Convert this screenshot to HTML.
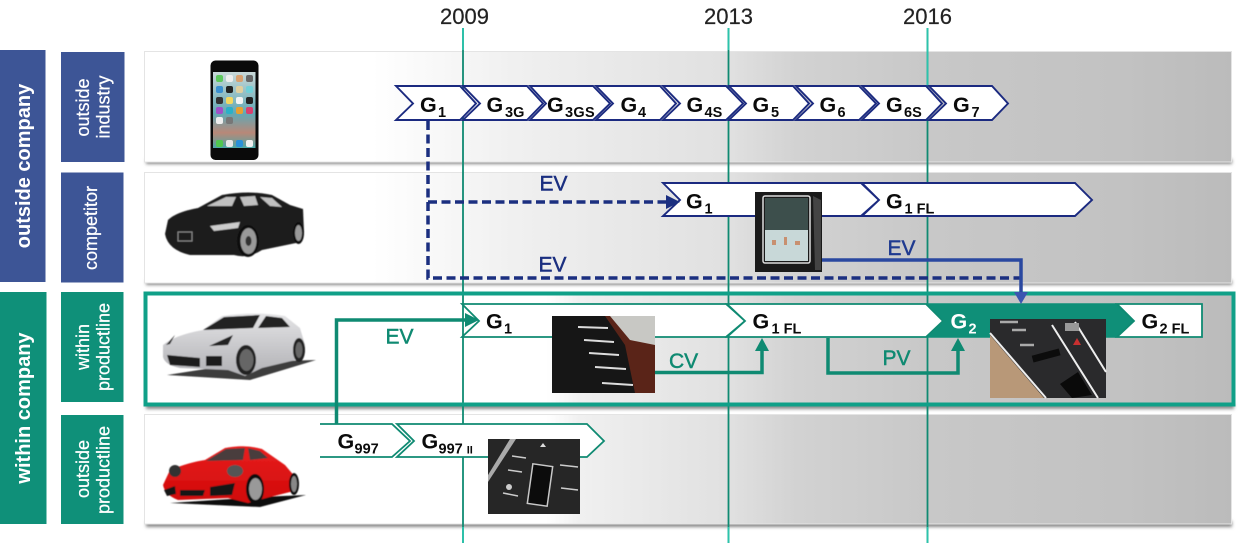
<!DOCTYPE html>
<html><head><meta charset="utf-8"><title>Diagram</title>
<style>
html,body{margin:0;padding:0;background:#fff;width:1240px;height:543px;overflow:hidden}
svg{display:block}
text{font-family:"Liberation Sans",sans-serif}
.g{font-weight:bold;font-size:21.5px;fill:#0b0b0b}
.s{font-weight:bold;font-size:14.5px;fill:#0b0b0b}
.y{font-size:22px;fill:#222;stroke:#222;stroke-width:.2}
.side{fill:#fff;font-size:18px;text-anchor:middle;stroke:#fff;stroke-width:.25}
.big{fill:#fff;font-size:20px;font-weight:bold;text-anchor:middle}
.ev{font-size:21px;stroke-width:.45}
.n{fill:#fff;stroke:#1b2a80;stroke-width:1.900}
.t{fill:#fff;stroke:#0f8a72;stroke-width:1.800}
</style></head><body>
<svg width="1240" height="543" viewBox="0 0 1240 543" xmlns="http://www.w3.org/2000/svg">
<defs>
<linearGradient id="r" gradientUnits="userSpaceOnUse" x1="144" y1="0" x2="1232" y2="0">
<stop offset="0" stop-color="#fff"/><stop offset=".21" stop-color="#fff"/><stop offset=".34" stop-color="#f0f0f0"/><stop offset=".54" stop-color="#e0e0e0"/><stop offset=".6" stop-color="#d2d2d2"/><stop offset=".72" stop-color="#c8c8c8"/><stop offset=".9" stop-color="#c2c2c2"/><stop offset="1" stop-color="#bbb"/>
</linearGradient>
<linearGradient id="r2" gradientUnits="userSpaceOnUse" x1="144" y1="0" x2="1232" y2="0">
<stop offset="0" stop-color="#fff"/><stop offset=".37" stop-color="#fff"/><stop offset=".4" stop-color="#f0f0f0"/><stop offset=".54" stop-color="#e0e0e0"/><stop offset=".6" stop-color="#d2d2d2"/><stop offset=".72" stop-color="#c8c8c8"/><stop offset=".9" stop-color="#c2c2c2"/><stop offset="1" stop-color="#bbb"/>
</linearGradient>
<linearGradient id="scr" x1="0" y1="0" x2="0" y2="1"><stop offset="0" stop-color="#c8d8d8"/><stop offset=".55" stop-color="#62a8b4"/><stop offset=".8" stop-color="#b88878"/><stop offset="1" stop-color="#4aa8a8"/></linearGradient>
<linearGradient id="silver" x1="0" y1="0" x2="0" y2="1"><stop offset="0" stop-color="#e4e4e6"/><stop offset="1" stop-color="#b0b0b4"/></linearGradient>
<linearGradient id="red" x1="0" y1="0" x2="0" y2="1"><stop offset="0" stop-color="#e82020"/><stop offset="1" stop-color="#d00808"/></linearGradient>
<filter id="bl"><feGaussianBlur stdDeviation="1.5"/></filter>
<filter id="soft"><feGaussianBlur stdDeviation=".5"/></filter>
</defs>

<!-- left headers -->
<rect x="0" y="50" width="45.500" height="232" fill="#3d5596"/>
<rect x="61" y="52" width="63.500" height="110" fill="#3d5596"/>
<rect x="61" y="172.500" width="62.500" height="110" fill="#3d5596"/>
<rect x="0" y="292" width="46.500" height="232" fill="#0f9079"/>
<rect x="61" y="292" width="62.500" height="110" fill="#0f9079"/>
<rect x="61" y="415" width="62.500" height="109" fill="#0f9079"/>
<text class="big" transform="translate(30,166) rotate(-90)">outside company</text>
<text class="big" transform="translate(30,408) rotate(-90)">within company</text>
<text class="side" transform="translate(89,107.500) rotate(-90)">outside</text>
<text class="side" transform="translate(109.500,107) rotate(-90)">industry</text>
<text class="side" transform="translate(97,228) rotate(-90)">competitor</text>
<text class="side" transform="translate(89,347) rotate(-90)">within</text>
<text class="side" transform="translate(109.500,347) rotate(-90)">productline</text>
<text class="side" transform="translate(89,469) rotate(-90)">outside</text>
<text class="side" transform="translate(109.500,470) rotate(-90)">productline</text>

<!-- rows -->
<g fill="#888" filter="url(#bl)">
<rect x="146" y="159" width="1086" height="5"/>
<rect x="146" y="280" width="1086" height="5"/>
<rect x="146" y="404" width="1088" height="5"/>
<rect x="146" y="521" width="1086" height="6"/>
</g>
<rect x="144.500" y="51.500" width="1087" height="110.500" fill="url(#r)" stroke="#e4e4e4"/>
<rect x="144.500" y="172.500" width="1087" height="110.500" fill="url(#r)" stroke="#e4e4e4"/>
<rect x="144.500" y="414.500" width="1087" height="109.500" fill="url(#r2)" stroke="#e4e4e4"/>
<rect x="145.500" y="293.500" width="1088" height="111" fill="url(#r2)"/>

<!-- timeline -->
<g stroke="#0f8a72" stroke-width="1.800">
<line x1="463" y1="28" x2="463" y2="543"/><line x1="728.500" y1="28" x2="728.500" y2="543"/><line x1="927.500" y1="28" x2="927.500" y2="543"/>
</g>
<g stroke="#2cc4ac" stroke-width="1.800">
<line x1="463" y1="28" x2="463" y2="50"/><line x1="728.500" y1="28" x2="728.500" y2="50"/><line x1="927.500" y1="28" x2="927.500" y2="86"/>
<line x1="463" y1="527" x2="463" y2="543"/><line x1="728.500" y1="527" x2="728.500" y2="543"/><line x1="927.500" y1="527" x2="927.500" y2="543"/>
</g>
<rect x="145.500" y="293.500" width="1088" height="111" fill="none" stroke="#10a088" stroke-width="4"/>
<text class="y" x="440" y="24">2009</text><text class="y" x="704" y="24">2013</text><text class="y" x="903" y="24">2016</text>

<!-- chevrons row 1 -->
<polygon class="n" points="396,86 460,86 476,103.500 460,120 396,120 413,103.500"/>
<polygon class="n" points="463,86 527,86 543,103.500 527,120 463,120 480,103.500"/>
<polygon class="n" points="530,86 593,86 610,103.500 593,120 530,120 546,103.500"/>
<polygon class="n" points="596,86 660,86 676,103.500 660,120 596,120 613,103.500"/>
<polygon class="n" points="663,86 726,86 743,103.500 726,120 663,120 680,103.500"/>
<polygon class="n" points="729,86 793,86 809,103.500 793,120 729,120 746,103.500"/>
<polygon class="n" points="796,86 859,86 876,103.500 859,120 796,120 813,103.500"/>
<polygon class="n" points="862,86 926,86 942,103.500 926,120 862,120 879,103.500"/>
<polygon class="n" points="929,86 992,86 1008,103.500 992,120 929,120 946,103.500"/>
<text class="g" x="420" y="112">G</text><text class="s" x="438" y="117">1</text>
<text class="g" x="486.500" y="112">G</text><text class="s" x="505" y="117">3G</text>
<text class="g" x="547" y="112">G</text><text class="s" x="565" y="117" letter-spacing=".3">3GS</text>
<text class="g" x="620.500" y="112">G</text><text class="s" x="638" y="117">4</text>
<text class="g" x="686.500" y="112">G</text><text class="s" x="704.500" y="117">4S</text>
<text class="g" x="752.500" y="112">G</text><text class="s" x="771" y="117">5</text>
<text class="g" x="819.500" y="112">G</text><text class="s" x="837.500" y="117">6</text>
<text class="g" x="886" y="112">G</text><text class="s" x="904" y="117">6S</text>
<text class="g" x="953" y="112">G</text><text class="s" x="971.500" y="117">7</text>

<!-- row 2 chevrons -->
<polygon class="n" points="663,183 861,183 879,200 861,216 663,216 680,200"/>
<polygon class="n" points="862,183 1075,183 1092,200 1075,216 862,216 879,200"/>
<text class="g" x="686" y="208.500">G</text><text class="s" x="704.500" y="213.500">1</text>
<text class="g" x="886" y="208.500">G</text><text class="s" x="904.500" y="213.500">1 FL</text>

<!-- row 3 chevrons -->
<polygon class="t" points="462,304 726,304 745,321 726,337 462,337 479,321"/>
<polygon class="t" points="727,304 926,304 943,321 926,337 727,337 745,321"/>
<polygon points="928,304 1115,304 1134,321 1115,337 928,337 945,321" fill="#0f8f78" stroke="#0f8f78" stroke-width="1.600"/>
<polygon class="t" points="1117,304 1202,304 1202,337 1117,337 1134,321"/>
<text class="g" x="486" y="328.500">G</text><text class="s" x="504" y="333.500">1</text>
<text class="g" x="752.500" y="328.500">G</text><text class="s" x="771.500" y="333.500">1 FL</text>
<text class="g" x="950.500" y="328.500" style="fill:#fff">G</text><text class="s" x="968.500" y="333.500" style="fill:#fff">2</text>
<text class="g" x="1141.500" y="328.500">G</text><text class="s" x="1159.500" y="333.500">2 FL</text>

<!-- row 4 chevrons -->
<polygon points="320,424 392,424 410,441 392,457 320,457" fill="#fff"/>
<path d="M320,424 H392 L410,441 L392,457 H320" fill="none" stroke="#0f8a72" stroke-width="1.800"/>
<polygon class="t" points="397,424 587,424 604,441 587,457 397,457 414,441"/>
<text class="g" x="337.500" y="448.500">G</text><text class="s" x="354.500" y="453.500">997</text>
<text class="g" x="421.500" y="448.500">G</text><text class="s" x="438.500" y="453.500">997 <tspan font-size="11">II</tspan></text>

<!-- connectors -->
<g fill="none" stroke="#1b2f80" stroke-width="3.500">
<path d="M428,121 V278 H1020" stroke-dasharray="9 4.500"/>
<path d="M428,202 H666" stroke-dasharray="9 4.500"/>
</g>
<polygon points="666,195 680,202 666,209" fill="#1b2f80"/>
<path d="M820,260 H1021 V293" fill="none" stroke="#2a48a0" stroke-width="3.500"/>
<polygon points="1014,292 1028,292 1021,304" fill="#3b55b0"/>
<g fill="none" stroke="#0f8a72" stroke-width="3.500">
<path d="M336.500,424 V320 H466"/>
<path d="M655,372.500 H762 V350"/>
<path d="M828,338 V373 H958 V350"/>
</g>
<polygon points="465,313 479,320 465,327" fill="#0f8a72"/>
<polygon points="755,351 769,351 762,338" fill="#0f8a72"/>
<polygon points="951,351 965,351 958,338" fill="#0f8a72"/>

<text class="ev" x="539.500" y="190.500" fill="#1b2f80" stroke="#1b2f80">EV</text>
<text class="ev" x="538.500" y="271.500" fill="#1b2f80" stroke="#1b2f80">EV</text>
<text class="ev" x="887.500" y="255" fill="#1f3a90" stroke="#1f3a90">EV</text>
<text class="ev" x="385.500" y="343.500" fill="#0f8a72" stroke="#0f8a72">EV</text>
<text class="ev" x="669" y="368" fill="#0f8a72" stroke="#0f8a72">CV</text>
<text class="ev" x="882.500" y="365" fill="#0f8a72" stroke="#0f8a72">PV</text>

<!-- phone -->
<rect x="210.500" y="60.500" width="48" height="99.500" rx="5" fill="#0a0a0a"/>
<rect x="213" y="72" width="42.500" height="76" fill="url(#scr)"/>
<rect x="216" y="75" width="7" height="7" rx="2" fill="#5cc85c"/><rect x="226" y="75" width="7" height="7" rx="2" fill="#eee"/><rect x="236" y="75" width="7" height="7" rx="2" fill="#d8a070"/><rect x="246" y="75" width="7" height="7" rx="2" fill="#666"/>
<rect x="216" y="86" width="7" height="7" rx="2" fill="#3a90d0"/><rect x="226" y="86" width="7" height="7" rx="2" fill="#222"/><rect x="236" y="86" width="7" height="7" rx="2" fill="#e0d0a0"/><rect x="246" y="86" width="7" height="7" rx="2" fill="#70d0d8"/>
<rect x="216" y="97" width="7" height="7" rx="2" fill="#333"/><rect x="226" y="97" width="7" height="7" rx="2" fill="#f4d860"/><rect x="236" y="97" width="7" height="7" rx="2" fill="#f4f4f4"/><rect x="246" y="97" width="7" height="7" rx="2" fill="#222"/>
<rect x="216" y="107" width="7" height="7" rx="2" fill="#a050c8"/><rect x="226" y="107" width="7" height="7" rx="2" fill="#2ab0c8"/><rect x="236" y="107" width="7" height="7" rx="2" fill="#e8a030"/><rect x="246" y="107" width="7" height="7" rx="2" fill="#d84070"/>
<rect x="216" y="117" width="7" height="7" rx="2" fill="#eee"/><rect x="226" y="117" width="7" height="7" rx="2" fill="#777"/>
<rect x="216" y="140" width="7" height="7" rx="2" fill="#50c850"/><rect x="226" y="140" width="7" height="7" rx="2" fill="#e8e8e8"/><rect x="236" y="140" width="7" height="7" rx="2" fill="#2a90d8"/><rect x="246" y="140" width="7" height="7" rx="2" fill="#f0f0f0"/>

<!-- tesla -->
<g filter="url(#soft)">
<path d="M165,234 L168,220 Q176,212 198,208 L222,195 Q250,190 272,195 L290,205 L303,209 L304,232 L296,243 L262,250 Q248,259 234,255 L190,255 Q168,250 165,234 Z" fill="#1d1d1d"/>
<path d="M207,206 L226,197 L236,197 L232,206 Z M240,197 L244,206 L258,205 L255,196 Z M260,197 L270,206 L282,207 L272,198 Z" fill="#c0c0c0"/>
<path d="M210,226 L240,222 L238,228 L214,231 Z" fill="#ccc"/>
<rect x="178" y="232" width="14" height="9" fill="none" stroke="#888"/>
<ellipse cx="248" cy="241" rx="11" ry="16" fill="#111"/><ellipse cx="248.500" cy="241" rx="8" ry="13" fill="#999"/><ellipse cx="248.500" cy="241" rx="3" ry="5" fill="#333"/>
<ellipse cx="298.500" cy="233" rx="5.500" ry="11" fill="#111"/><ellipse cx="298.500" cy="233" rx="3.500" ry="8" fill="#999"/>
</g>

<!-- panamera -->
<g filter="url(#soft)">
<path d="M167,375 L250,380 L316,360 L250,362 Z" fill="#3c3c3c"/>
<path d="M163,357 L163,345 Q175,335 203,330 L222,316 Q255,311 285,316 L300,328 L305,345 L304,358 L262,368 L245,376 L228,370 L180,368 Q165,365 163,357 Z" fill="url(#silver)"/>
<path d="M203,330 L224,317 L260,315 L253,328 Z M258,328 L266,316 L282,318 L290,327 Z" fill="#222"/>
<path d="M167,355 L200,358 L200,367 L170,365 Z M206,356 L222,356 L222,366 L206,366 Z" fill="#1e1e1e"/>
<path d="M209,346 L233,335 L228,345 Z M166,345 L175,335 L170,344 Z" fill="#222"/>
<ellipse cx="246" cy="360" rx="10" ry="15" fill="#222"/><ellipse cx="246.500" cy="360" rx="7" ry="11" fill="#666"/>
<ellipse cx="299" cy="350" rx="6" ry="12" fill="#222"/><ellipse cx="299" cy="350" rx="3.500" ry="8" fill="#666"/>
</g>

<!-- 911 -->
<g filter="url(#soft)">
<path d="M170,503 L260,507 L306,495 L260,497 Z" fill="#111"/>
<path d="M163,485 L170,470 Q190,462 205,460 L225,448 Q245,444 262,449 L285,465 L296,478 L298,490 L270,497 L248,503 L228,498 L178,500 Q165,495 163,485 Z" fill="url(#red)"/>
<path d="M206,461 L226,449 L245,448 L243,460 Z M248,448 L260,451 L268,458 L250,460 Z" fill="#4a3c3c"/>
<path d="M164,490 L175,486 L176,494 L167,496 Z M180,490 L205,490 L203,496 L180,496 Z M210,487 L235,483 L232,495 L210,496 Z" fill="#181818"/>
<ellipse cx="175" cy="471" rx="6" ry="6" fill="#333"/><ellipse cx="235" cy="471" rx="8" ry="6" fill="#555"/>
<ellipse cx="255" cy="489" rx="9" ry="15" fill="#111"/><ellipse cx="255.500" cy="489" rx="6.500" ry="11" fill="#999"/>
<ellipse cx="294" cy="484" rx="5" ry="11" fill="#111"/><ellipse cx="294" cy="484" rx="3" ry="8" fill="#888"/>
</g>

<!-- tesla screen -->
<rect x="755" y="192" width="67" height="80" fill="#1a1a1a"/>
<rect x="763" y="196" width="47" height="67" rx="2" fill="none" stroke="#ddd" stroke-width="1.500"/>
<rect x="765" y="198" width="43" height="32" fill="#3d4f4c"/>
<rect x="765" y="230" width="43" height="31" fill="#c8d8d8"/>
<path d="M772,240 h4 v5 h-4z M784,237 h3 v8 h-3z M795,241 h5 v4 h-5z" fill="#c89070"/>
<path d="M813,196 L821,200 L821,270 L815,270 Z" fill="#444"/>

<!-- panamera inset -->
<rect x="552" y="316" width="103" height="77" fill="#161616"/>
<polygon points="605,316 655,316 655,393 635,393 625,345" fill="#5a2418"/>
<polygon points="610,316 655,316 655,345 630,340" fill="#c8c8c4"/>
<g stroke="#ddd" stroke-width="2"><line x1="578" y1="327" x2="608" y2="328"/><line x1="584" y1="340" x2="614" y2="342"/><line x1="589" y1="353" x2="619" y2="355"/><line x1="595" y1="367" x2="626" y2="369"/><line x1="602" y1="383" x2="633" y2="385"/></g>

<!-- G2 inset -->
<rect x="990" y="319" width="116" height="79" fill="#2a2a2c"/>
<polygon points="990,335 1044,398 990,398" fill="#b89878"/>
<path d="M990,333 L1046,398 M1052,325 L1098,398 M1075,322 L1106,372" stroke="#eee" stroke-width="2" fill="none"/>
<path d="M1000,322 h18 M1012,330 h14 M1020,345 h14" stroke="#aaa" stroke-width="2.500"/>
<rect x="1032" y="352" width="28" height="7" fill="#0c0c0c" transform="rotate(-15 1046 355)"/>
<polygon points="1060,384 1078,372 1092,395 1072,398" fill="#0a0a0a"/>
<rect x="1065" y="323" width="14" height="8" fill="#999"/>
<polygon points="1073,345 1077,338 1081,345" fill="#c83030"/>

<!-- 997 inset -->
<rect x="488" y="439" width="92" height="75" fill="#262626"/>
<polygon points="488,475 510,439 516,439 488,482" fill="#aaa"/>
<rect x="530" y="465" width="20" height="40" fill="#0c0c0c" stroke="#c8c8c8" stroke-width="1.500" transform="rotate(8 540 485)"/>
<g stroke="#ccc" stroke-width="1.500"><line x1="512" y1="456" x2="526" y2="458"/><line x1="508" y1="470" x2="522" y2="472"/><line x1="503" y1="493" x2="518" y2="496"/><line x1="560" y1="465" x2="578" y2="467"/><line x1="561" y1="488" x2="578" y2="490"/></g>
<circle cx="509" cy="487" r="3" fill="#ccc"/><polygon points="540,447 543,443 546,447" fill="#ddd"/>
</svg>
</body></html>
